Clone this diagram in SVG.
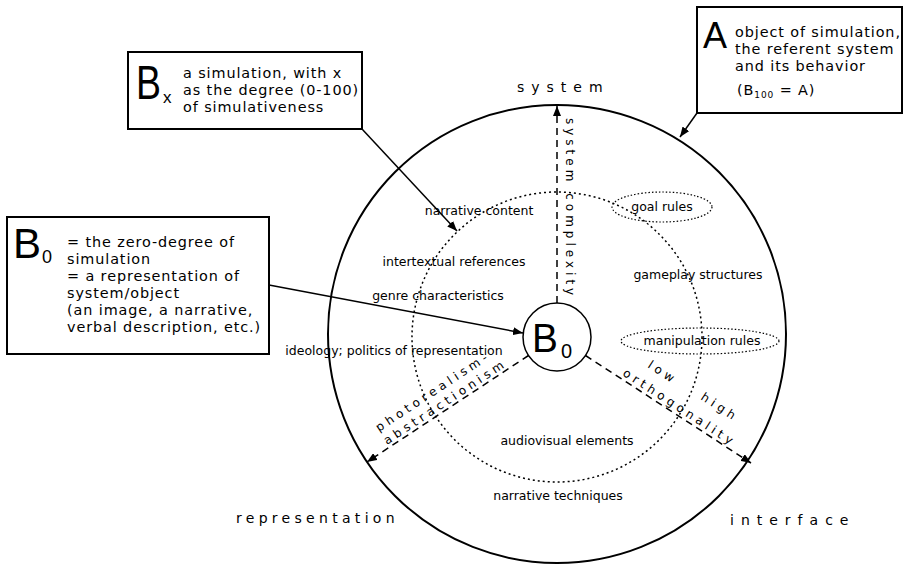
<svg xmlns="http://www.w3.org/2000/svg" width="914" height="567" viewBox="0 0 914 567">
<defs>
<marker id="ah" viewBox="0 0 10 8" refX="10" refY="4" markerWidth="10" markerHeight="8" markerUnits="userSpaceOnUse" orient="auto">
<path d="M0,0 L10,4 L0,8 z" fill="#000"/>
</marker>
<style>
.t{font-family:"DejaVu Sans","Noto Sans",sans-serif;font-size:12.5px;fill:#000}
.bt{font-family:"DejaVu Sans","Noto Sans",sans-serif;font-size:14.4px;letter-spacing:0.9px;fill:#000}
.big{font-family:"Liberation Sans",Arial,sans-serif;fill:#000}
.ax{font-family:"DejaVu Sans","Noto Sans",sans-serif;font-size:14px;fill:#000}
.rt{font-family:"DejaVu Sans","Noto Sans",sans-serif;font-size:12px;letter-spacing:4px;fill:#000}
.box{fill:#fff;stroke:#000;stroke-width:2}
.dash{fill:none;stroke:#000;stroke-width:1.5;stroke-dasharray:7 5}
.dot{fill:none;stroke:#000;stroke-width:1.5;stroke-dasharray:2 3}
.edot{fill:none;stroke:#000;stroke-width:1.2;stroke-dasharray:1.5 2}
.ln{fill:none;stroke:#000;stroke-width:1.5}
</style>
</defs>
<rect width="914" height="567" fill="#fff"/>

<g id="outer-circle">
<circle cx="557" cy="334" r="229" fill="none" stroke="#000" stroke-width="2"/>
</g>
<g id="inner-circle">
<circle cx="557" cy="337" r="145" class="dot"/>
</g>

<g id="connectors">
<line x1="557" y1="303" x2="557" y2="106" class="dash" marker-end="url(#ah)"/>
<line x1="528.5" y1="355.5" x2="367" y2="462" class="dash" marker-end="url(#ah)"/>
<line x1="585.5" y1="355.5" x2="751" y2="463" class="dash" marker-end="url(#ah)"/>
<line x1="362" y1="129" x2="457" y2="231" class="ln" marker-end="url(#ah)"/>
<line x1="697" y1="113" x2="680" y2="137" class="ln" marker-end="url(#ah)"/>
<line x1="269" y1="285" x2="523" y2="333" class="ln" marker-end="url(#ah)"/>
</g>

<g id="axis-labels">
<text class="ax" x="517" y="92" letter-spacing="7">system</text>
<text class="ax" x="236" y="523" letter-spacing="4.3">representation</text>
<text class="ax" x="730" y="525" letter-spacing="7">interface</text>
<text class="rt" transform="translate(566,118) rotate(90)" letter-spacing="4.2">system complexity</text>
<text class="rt" transform="translate(379,432) rotate(-33.4)">photorealism-</text>
<text class="rt" transform="translate(387,445) rotate(-33.4)" letter-spacing="3.3">abstractionism</text>
<text class="rt" transform="translate(647,367) rotate(33)">low</text>
<text class="rt" transform="translate(700,399) rotate(33)">high</text>
<text class="rt" transform="translate(622,375) rotate(33)">orthogonality</text>
</g>

<g id="labels">
<text class="t" x="479" y="215" text-anchor="middle">narrative content</text>
<text class="t" x="454" y="266" text-anchor="middle">intertextual references</text>
<text class="t" x="438" y="300" text-anchor="middle">genre characteristics</text>
<text class="t" x="394" y="355" text-anchor="middle">ideology; politics of representation</text>
<text class="t" x="698" y="279" text-anchor="middle">gameplay structures</text>
<text class="t" x="567" y="445" text-anchor="middle">audiovisual elements</text>
<text class="t" x="558" y="500" text-anchor="middle">narrative techniques</text>
</g>

<g id="goal-rules">
<ellipse cx="662" cy="207" rx="50" ry="15" class="edot"/>
<text class="t" x="662" y="211" text-anchor="middle">goal rules</text>
</g>
<g id="manipulation-rules">
<ellipse cx="700" cy="341" rx="79" ry="13" class="edot"/>
<text class="t" x="702" y="345" text-anchor="middle">manipulation rules</text>
</g>

<g id="B0-center">
<circle cx="557" cy="337" r="34" fill="#fff" stroke="#000" stroke-width="1.5"/>
<text class="big" transform="translate(532,352) scale(0.97,1)" font-size="40">B</text>
<text class="big" x="561" y="358" font-size="20">0</text>
</g>

<g id="box-Bx">
<rect x="128" y="52" width="234" height="77" class="box"/>
<text class="big" transform="translate(136,99) scale(0.78,1)" font-size="48">B</text>
<text class="big" x="163" y="103" font-size="17">x</text>
<text class="bt" x="183" y="78">a simulation, with x</text>
<text class="bt" x="183" y="95">as the degree (0-100)</text>
<text class="bt" x="183" y="112">of simulativeness</text>
</g>

<g id="box-A">
<rect x="697" y="7" width="205" height="106" class="box"/>
<text class="big" x="703" y="48" font-size="36">A</text>
<text class="bt" x="735" y="37">object of simulation,</text>
<text class="bt" x="735" y="54">the referent system</text>
<text class="bt" x="735" y="71">and its behavior</text>
<text class="bt" x="737" y="95" font-size="12.5" letter-spacing="0.5">(B<tspan font-size="9" dy="3">100</tspan><tspan dy="-3"> = A)</tspan></text>
</g>

<g id="box-B0">
<rect x="7" y="217" width="262" height="137" class="box"/>
<text class="big" x="13" y="258" font-size="42">B</text>
<text class="big" x="42" y="263" font-size="18">0</text>
<text class="bt" x="67" y="247">= the zero-degree of</text>
<text class="bt" x="67" y="264">simulation</text>
<text class="bt" x="67" y="281">= a representation of</text>
<text class="bt" x="67" y="298">system/object</text>
<text class="bt" x="67" y="315">(an image, a narrative,</text>
<text class="bt" x="67" y="332">verbal description, etc.)</text>
</g>
</svg>
